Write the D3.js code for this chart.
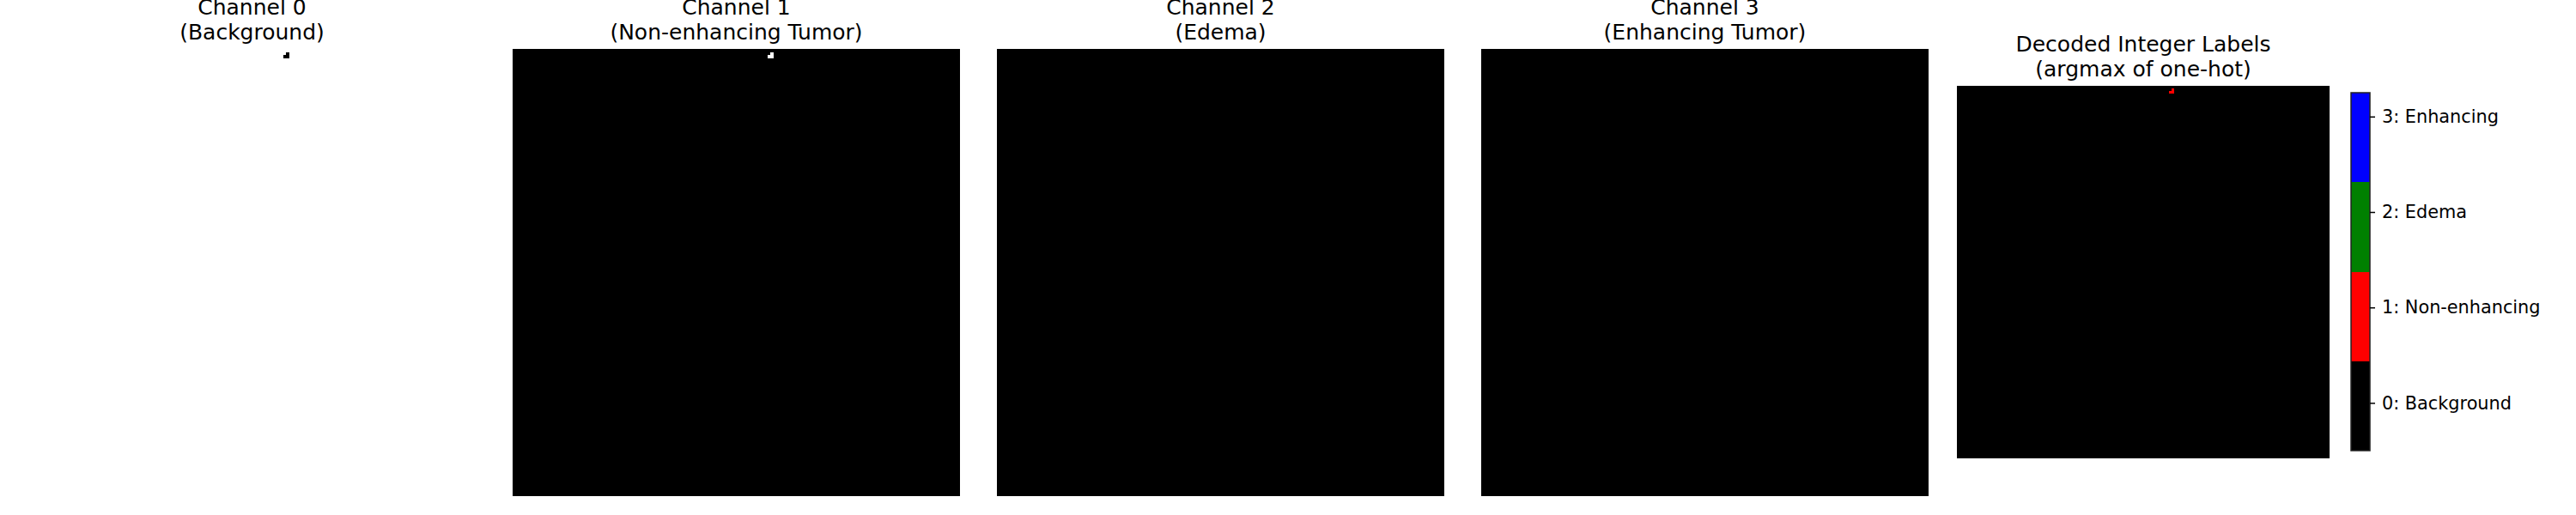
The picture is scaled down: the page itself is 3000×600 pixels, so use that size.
<!DOCTYPE html>
<html>
<head>
<meta charset="utf-8">
<script src="https://cdn.jsdelivr.net/npm/d3@7/dist/d3.min.js"></script>
<style>
  html, body { margin: 0; padding: 0; background: #ffffff; }
  svg { display: block; }
  text { font-family: "DejaVu Sans", sans-serif; fill: #000; }
</style>
</head>
<body>
<svg id="chart" width="3000" height="600"></svg>
<script>
// ---------------- data ----------------
const gridSize = 144;                 // image is gridSize x gridSize
// sparse labelled pixels (everything else is class 0: Background)
const labelRows   = [1, 2, 2];
const labelCols   = [83, 82, 83];
const labelValues = [1, 1, 1];

const channelTitles = [
  ["Channel 0", "(Background)"],
  ["Channel 1", "(Non-enhancing Tumor)"],
  ["Channel 2", "(Edema)"],
  ["Channel 3", "(Enhancing Tumor)"]
];
const decodedTitle = ["Decoded Integer Labels", "(argmax of one-hot)"];

const classNames  = ["0: Background", "1: Non-enhancing", "2: Edema", "3: Enhancing"];
const classColors = ["#000000", "#ff0000", "#008000", "#0000ff"];
const cbarTicks   = [0, 1, 2, 3];
const cbarBounds  = [-0.5, 0.4375, 1.375, 2.3125, 3.25];

// ---------------- layout ----------------
const W = 3000, H = 600;
const chanLeft0 = 33, chanStride = 564, chanTop = 57, chanSize = 521;
const decLeft = 2279, decTop = 100, decSize = 434;
const cbX = 2738, cbW = 22, cbTop = 108, cbBottom = 525;
const titleFont = 25, tickFont = 20.8, lineGap = 29;

const svg = d3.select("#chart");

// build full label grid
const labelGrid = d3.range(gridSize).map(() => new Array(gridSize).fill(0));
labelRows.forEach((r, i) => { labelGrid[r][labelCols[i]] = labelValues[i]; });

// one-hot channels (value 1 where label == c)
const channels = d3.range(4).map(c => labelGrid.map(row => row.map(v => v === c ? 1 : 0)));
// decoded = argmax over channels
const decoded = labelGrid.map((row, r) => row.map((_, col) => d3.maxIndex(channels, ch => ch[r][col])));

// run-length rows into rectangles
function runs(grid) {
  const out = [];
  grid.forEach((row, r) => {
    let start = 0;
    for (let c = 1; c <= row.length; c++) {
      if (c === row.length || row[c] !== row[start]) {
        out.push({ row: r, c0: start, c1: c, v: row[start] });
        start = c;
      }
    }
  });
  return out;
}

function drawImage(grid, left, top, size, colorFn) {
  const x = d3.scaleLinear().domain([0, gridSize]).range([left, left + size]);
  const y = d3.scaleLinear().domain([0, gridSize]).range([top, top + size]);
  const g = svg.append("g").attr("shape-rendering", "crispEdges");
  g.selectAll("rect").data(runs(grid)).join("rect")
    .attr("x", d => x(d.c0))
    .attr("y", d => y(d.row))
    .attr("width", d => x(d.c1) - x(d.c0))
    .attr("height", d => y(d.row + 1) - y(d.row))
    .attr("fill", d => colorFn(d.v));
}

function drawTitle(lines, cx, top) {
  const t = svg.append("text")
    .attr("text-anchor", "middle")
    .style("font-size", titleFont + "px");
  lines.forEach((s, i) => {
    t.append("tspan")
      .attr("x", cx)
      .attr("y", top - 11.5 - (lines.length - 1 - i) * lineGap)
      .text(s);
  });
}

const gray = d3.scaleLinear().domain([0, 1]).range(["#000000", "#ffffff"]);

channels.forEach((ch, i) => {
  const left = chanLeft0 + i * chanStride;
  drawImage(ch, left, chanTop, chanSize, v => gray(v));
  drawTitle(channelTitles[i], left + chanSize / 2, chanTop);
});

drawImage(decoded, decLeft, decTop, decSize, v => classColors[v]);
drawTitle(decodedTitle, decLeft + decSize / 2, decTop);

// ---------------- colorbar ----------------
const cbY = d3.scaleLinear().domain([cbarBounds[0], cbarBounds[cbarBounds.length - 1]]).range([cbBottom, cbTop]);
const segs = classColors.map((c, i) => ({ lo: cbarBounds[i], hi: cbarBounds[i + 1], color: c }));
svg.append("g").attr("shape-rendering", "crispEdges")
  .selectAll("rect").data(segs).join("rect")
  .attr("x", cbX).attr("width", cbW)
  .attr("y", d => cbY(d.hi))
  .attr("height", d => cbY(d.lo) - cbY(d.hi))
  .attr("fill", d => d.color);

svg.append("rect")
  .attr("x", cbX).attr("y", cbTop)
  .attr("width", cbW).attr("height", cbBottom - cbTop)
  .attr("fill", "none").attr("stroke", "#222").attr("stroke-width", 1.5);

const axis = d3.axisRight(cbY)
  .tickValues(cbarTicks)
  .tickFormat(d => classNames[d])
  .tickSize(6)
  .tickPadding(8);
const ag = svg.append("g").attr("transform", `translate(${cbX + cbW},0)`).call(axis);
ag.select(".domain").remove();
ag.selectAll(".tick line").attr("stroke", "#000").attr("stroke-width", 1.5);
ag.selectAll(".tick text")
  .attr("font-family", "DejaVu Sans")
  .style("font-size", tickFont + "px")
  .attr("fill", "#000");
</script>
</body>
</html>
